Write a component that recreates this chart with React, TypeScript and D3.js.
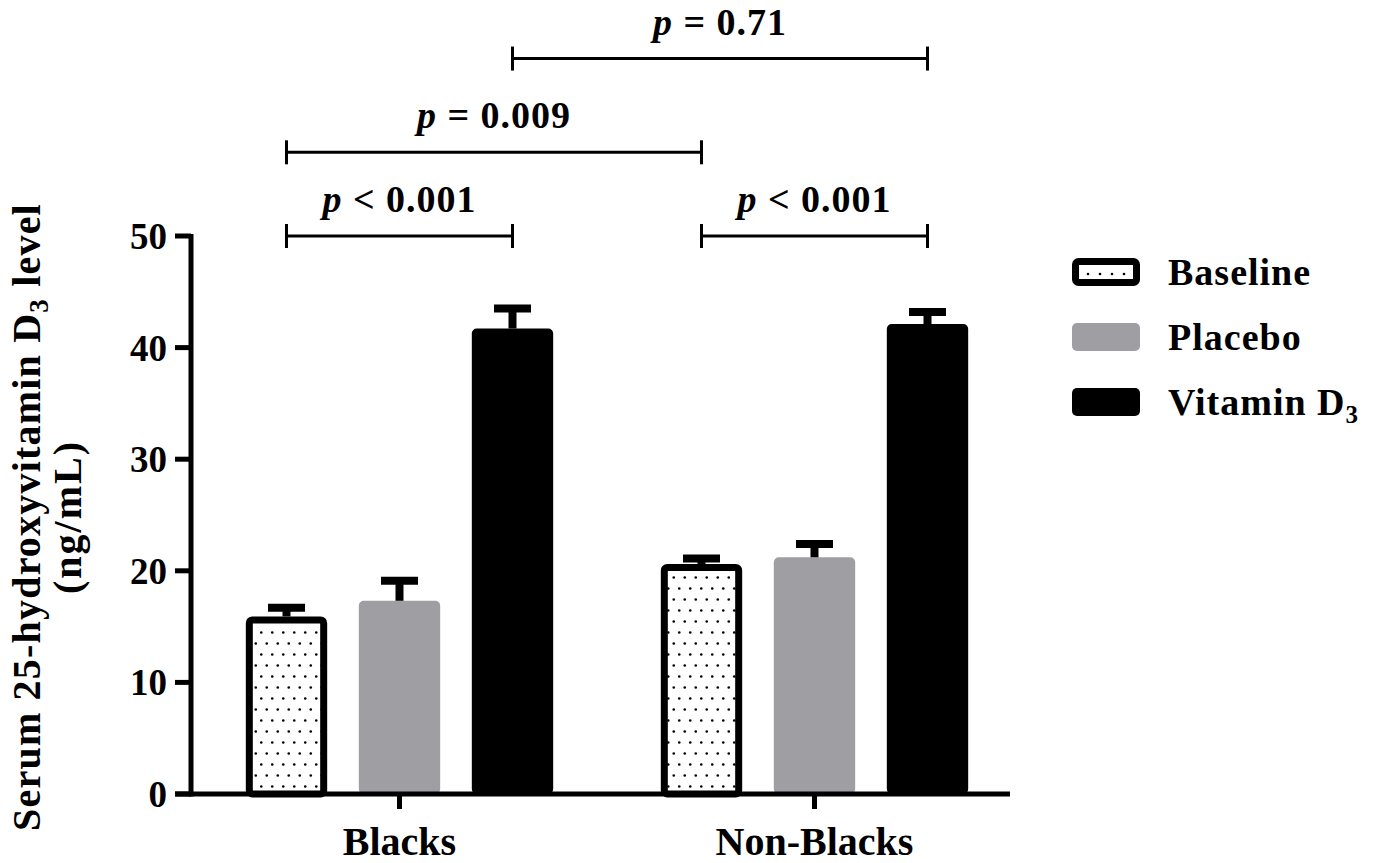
import React from "react";
import * as d3 from "d3";

const groups = ["Blacks", "Non-Blacks"];
const series = ["Baseline", "Placebo", "Vitamin D3"];
const baselineMeans = [15.6, 20.3];
const baselineErrTop = [16.7, 21.1];
const placeboMeans = [17.0, 20.9];
const placeboErrTop = [19.1, 22.4];
const vitaminMeans = [41.4, 41.8];
const vitaminErrTop = [43.5, 43.2];
const yTicks = [0, 10, 20, 30, 40, 50];

type Bracket = { g1: number; s1: number; g2: number; s2: number; level: number; op: string; val: string };
const brackets: Bracket[] = [
  { g1: 0, s1: 0, g2: 0, s2: 2, level: 50, op: "<", val: "0.001" },
  { g1: 1, s1: 0, g2: 1, s2: 2, level: 50, op: "<", val: "0.001" },
  { g1: 0, s1: 0, g2: 1, s2: 0, level: 57.5, op: "=", val: "0.009" },
  { g1: 0, s1: 2, g2: 1, s2: 2, level: 65.9, op: "=", val: "0.71" },
];

const W = 1378;
const H = 863;
const FONT = "'Liberation Serif', 'Times New Roman', serif";

export default function App() {
  const y = d3.scaleLinear().domain([0, 50]).range([794, 236]);
  const x0 = d3.scaleBand<string>().domain(groups).range([192, 1022]);
  const x1 = d3
    .scaleBand<string>()
    .domain(series)
    .range([-169.5, 169.5])
    .paddingInner(0.28)
    .paddingOuter(0.14);
  const bw = x1.bandwidth();

  const means = [baselineMeans, placeboMeans, vitaminMeans];
  const errs = [baselineErrTop, placeboErrTop, vitaminErrTop];

  const center = (g: number, s: number) =>
    (x0(groups[g]) as number) + x0.bandwidth() / 2 + (x1(series[s]) as number) + bw / 2;

  const sw = 7;
  const capW = 37;

  return (
    <svg width={W} height={H} style={{ position: "absolute", left: 0, top: 0, background: "#fff" }}>
      <defs>
        <pattern id="dots" patternUnits="userSpaceOnUse" width={11} height={22}>
          <rect width={11} height={22} fill="#fff" />
          <circle cx={2.75} cy={5.5} r={1.3} fill="#000" />
          <circle cx={8.25} cy={16.5} r={1.3} fill="#000" />
        </pattern>
      </defs>

      {/* bars */}
      {groups.map((g, gi) =>
        series.map((s, si) => {
          const cx = center(gi, si);
          const v = means[si][gi];
          const top = y(v);
          const left = cx - bw / 2;
          if (si === 0) {
            return (
              <rect
                key={g + s}
                x={left + sw / 2}
                y={top}
                width={bw - sw}
                height={y(0) - top}
                rx={3}
                fill="url(#dots)"
                stroke="#000"
                strokeWidth={sw}
              />
            );
          }
          return (
            <rect
              key={g + s}
              x={left}
              y={top - sw / 2}
              width={bw}
              height={y(0) - top + sw / 2}
              rx={5}
              fill={si === 1 ? "#9e9ea3" : "#000"}
            />
          );
        })
      )}

      {/* error bars */}
      {groups.map((g, gi) =>
        series.map((s, si) => {
          const cx = center(gi, si);
          const top = y(means[si][gi]) - sw / 2;
          const et = y(errs[si][gi]);
          return (
            <g key={"e" + g + s}>
              <line x1={cx} x2={cx} y1={top} y2={et} stroke="#000" strokeWidth={8} />
              <line x1={cx - capW / 2} x2={cx + capW / 2} y1={et} y2={et} stroke="#000" strokeWidth={8} />
            </g>
          );
        })
      )}

      {/* axes */}
      <line x1={191} x2={191} y1={y(50) - 2} y2={y(0) + 2.5} stroke="#000" strokeWidth={5} />
      <line x1={175} x2={1010} y1={y(0)} y2={y(0)} stroke="#000" strokeWidth={5} />
      {yTicks.map((t) => (
        <g key={"t" + t}>
          <line x1={175} x2={191} y1={y(t)} y2={y(t)} stroke="#000" strokeWidth={5} />
          <text
            x={167}
            y={y(t)}
            dy="0.35em"
            textAnchor="end"
            fontFamily={FONT}
            fontWeight="bold"
            fontSize={37}
          >
            {t}
          </text>
        </g>
      ))}
      {groups.map((g) => {
        const cx = (x0(g) as number) + x0.bandwidth() / 2;
        return (
          <g key={"x" + g}>
            <line x1={cx} x2={cx} y1={y(0)} y2={y(0) + 15} stroke="#000" strokeWidth={5} />
            <text x={cx} y={855} textAnchor="middle" fontFamily={FONT} fontWeight="bold" fontSize={40}>
              {g}
            </text>
          </g>
        );
      })}

      {/* y title */}
      <text
        transform="translate(40,517) rotate(-90)"
        textAnchor="middle"
        fontFamily={FONT}
        fontWeight="bold"
        fontSize={40}
        letterSpacing={1.2}
      >
        Serum 25-hydroxyvitamin D
        <tspan fontSize={27} dy={8}>3</tspan>
        <tspan dy={-8}> level</tspan>
      </text>
      <text
        transform="translate(81,517) rotate(-90)"
        textAnchor="middle"
        fontFamily={FONT}
        fontWeight="bold"
        fontSize={40}
        letterSpacing={2}
      >
        (ng/mL)
      </text>

      {/* significance brackets */}
      {brackets.map((b, i) => {
        const xa = center(b.g1, b.s1);
        const xb = center(b.g2, b.s2);
        const yy = y(b.level);
        return (
          <g key={"b" + i}>
            <line x1={xa} x2={xb} y1={yy} y2={yy} stroke="#000" strokeWidth={3} />
            <line x1={xa} x2={xa} y1={yy - 12} y2={yy + 12} stroke="#000" strokeWidth={3} />
            <line x1={xb} x2={xb} y1={yy - 12} y2={yy + 12} stroke="#000" strokeWidth={3} />
            <text
              x={(xa + xb) / 2}
              y={yy - 24}
              textAnchor="middle"
              fontFamily={FONT}
              fontWeight="bold"
              fontSize={38}
              letterSpacing={1}
            >
              <tspan fontStyle="italic">p</tspan>
              {` ${b.op} ${b.val}`}
            </text>
          </g>
        );
      })}

      {/* legend */}
      {series.map((s, i) => {
        const ly = 272 + i * 65;
        return (
          <g key={"l" + s}>
            {i === 0 ? (
              <g>
                <rect x={1075.5} y={ly - 10.5} width={61} height={21} rx={3} fill="#fff" stroke="#000" strokeWidth={7} />
                {[0, 1, 2, 3].map((k) => (
                  <circle key={k} cx={1088 + k * 12} cy={ly + 2} r={1.3} fill="#000" />
                ))}
              </g>
            ) : (
              <rect x={1072} y={ly - 14} width={68} height={28} rx={5} fill={i === 1 ? "#9e9ea3" : "#000"} />
            )}
            <text x={1168} y={ly + 13} fontFamily={FONT} fontWeight="bold" fontSize={38} letterSpacing={1}>
              {i === 2 ? (
                <>
                  Vitamin D<tspan fontSize={25} dy={8}>3</tspan>
                </>
              ) : (
                s
              )}
            </text>
          </g>
        );
      })}
    </svg>
  );
}
